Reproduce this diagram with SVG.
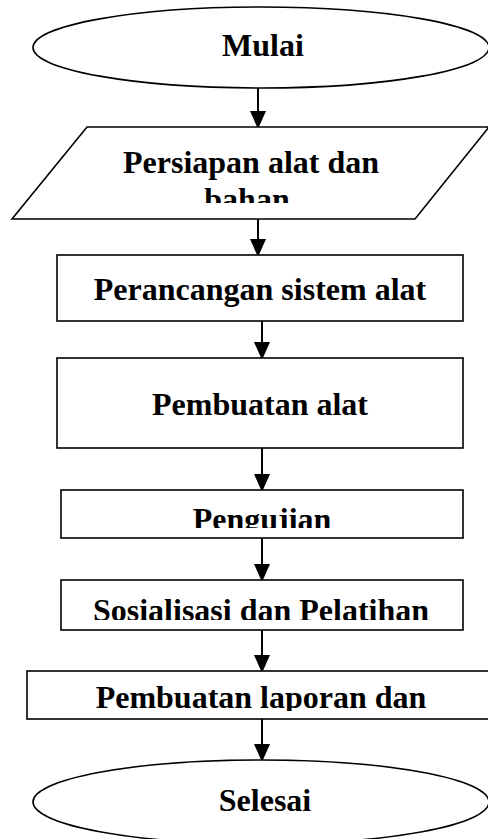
<svg xmlns="http://www.w3.org/2000/svg" width="488" height="839" viewBox="0 0 488 839">
<style>
.shape{fill:#fff;stroke:#000;stroke-width:1.6}
.lbl{font-family:"Liberation Serif","Times New Roman",serif;font-weight:bold;font-size:32px;fill:#000;text-anchor:middle}
.conn{stroke:#000;stroke-width:2;fill:none}
</style>
<defs>
<marker id="ah" markerUnits="userSpaceOnUse" markerWidth="16" markerHeight="18" refX="16" refY="8" orient="auto">
<path d="M0,0 L18,8 L0,16 Z" fill="#000"/>
</marker>
<clipPath id="c1"><rect x="0" y="130" width="488" height="73"/></clipPath>
<clipPath id="c3"><rect x="0" y="492" width="488" height="36"/></clipPath>
<clipPath id="c4"><rect x="0" y="582" width="488" height="38"/></clipPath>
<clipPath id="c5"><rect x="0" y="673" width="488" height="38"/></clipPath>
</defs>
<g id="connectors">
<line class="conn" x1="258" y1="88" x2="258" y2="127" marker-end="url(#ah)"/>
<line class="conn" x1="258" y1="219" x2="258" y2="255" marker-end="url(#ah)"/>
<line class="conn" x1="262" y1="321" x2="262" y2="358" marker-end="url(#ah)"/>
<line class="conn" x1="262" y1="448" x2="262" y2="490" marker-end="url(#ah)"/>
<line class="conn" x1="262" y1="538" x2="262" y2="580" marker-end="url(#ah)"/>
<line class="conn" x1="262" y1="630" x2="262" y2="671" marker-end="url(#ah)"/>
<line class="conn" x1="262" y1="719" x2="262" y2="760" marker-end="url(#ah)"/>
</g>
<g id="start">
<ellipse class="shape" cx="261" cy="47.5" rx="228" ry="40.5"/>
<text class="lbl" x="263" y="56">Mulai</text>
</g>
<g id="persiapan">
<polygon class="shape" points="87,127 489,127 415,219 12,219"/>
<g clip-path="url(#c1)">
<text class="lbl" x="251" y="173">Persiapan alat dan</text>
<text class="lbl" x="247" y="210">bahan</text>
</g>
</g>
<g id="perancangan">
<rect class="shape" x="57" y="255" width="406" height="66"/>
<text class="lbl" x="260" y="300">Perancangan sistem alat</text>
</g>
<g id="pembuatan">
<rect class="shape" x="57" y="358" width="406" height="90"/>
<text class="lbl" x="260" y="415">Pembuatan alat</text>
</g>
<g id="pengujian">
<rect class="shape" x="61" y="490" width="402" height="48"/>
<text class="lbl" x="262" y="530" clip-path="url(#c3)">Pengujian</text>
</g>
<g id="sosialisasi">
<rect class="shape" x="61" y="580" width="402" height="50"/>
<text class="lbl" x="261" y="621" clip-path="url(#c4)">Sosialisasi dan Pelatihan</text>
</g>
<g id="laporan">
<rect class="shape" x="27" y="671" width="470" height="48"/>
<text class="lbl" x="261" y="708" clip-path="url(#c5)">Pembuatan laporan dan</text>
</g>
<g id="end">
<ellipse class="shape" cx="261" cy="802" rx="228" ry="42"/>
<text class="lbl" x="265" y="811">Selesai</text>
</g>
</svg>
